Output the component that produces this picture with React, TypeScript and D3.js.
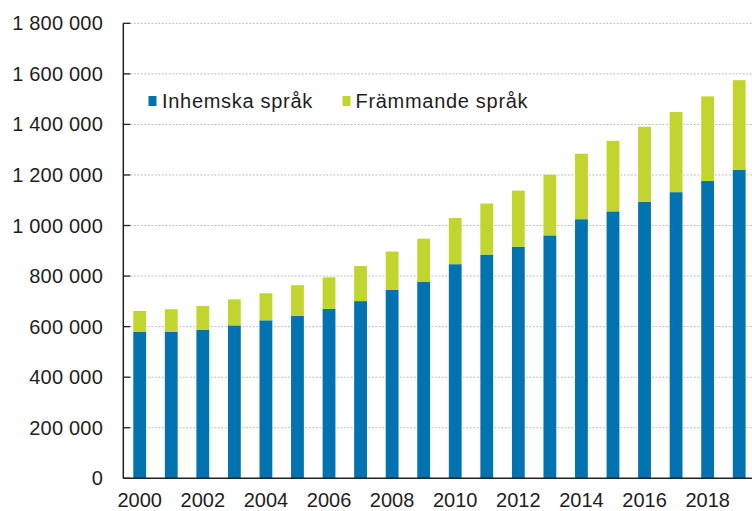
import React from "react";
import * as d3 from "d3";

const years = [2000,2001,2002,2003,2004,2005,2006,2007,2008,2009,2010,2011,2012,2013,2014,2015,2016,2017,2018,2019];
const domestic = [580000,580000,587000,605000,625000,643000,670000,701000,745000,778000,847000,885000,916000,961000,1025000,1056000,1094000,1132000,1176000,1221000];
const totals = [662000,669000,682000,708000,732000,764000,795000,840000,897000,948000,1030000,1087000,1138000,1201000,1284000,1335000,1391000,1449000,1511000,1575000];
const foreign = totals.map((t, i) => t - domestic[i]);
const yTicks = [0,200000,400000,600000,800000,1000000,1200000,1400000,1600000,1800000];
const seriesNames = ["Inhemska språk", "Främmande språk"];
const colors = ["#0073b0", "#c2d52f"];

const W = 752, H = 511;
const font = "'Liberation Sans', Arial, sans-serif";

export default function App() {
  const x = d3.scaleBand<number>().domain(years).range([123.3, 755.6]).paddingInner(0.594).paddingOuter(0.317);
  const y = d3.scaleLinear().domain([0, 1800000]).range([478.3, 23.3]);
  const stackData = years.map((yr, i) => ({ year: yr, a: domestic[i], b: foreign[i] }));
  const stack = d3.stack<any>().keys(["a", "b"])(stackData);
  const fmt = (v: number) => d3.format(",")(v).replace(/,/g, " ");
  const axisX = 123.3;
  return (
    <svg width={W} height={H} style={{ position: "absolute", left: 0, top: 0, background: "#fff" }}>
      {yTicks.map((t) => (
        <g key={t}>
          {t > 0 && (
            <line x1={axisX} x2={W} y1={y(t)} y2={y(t)} stroke="#bdbdbd" strokeWidth={1} strokeDasharray="2,1.5" />
          )}
          <line x1={axisX} x2={axisX + 7} y1={y(t)} y2={y(t)} stroke="#222" strokeWidth={1.3} />
          <text x={103} y={y(t)} dy="0.35em" textAnchor="end" fontFamily={font} fontSize={20} fill="#1e1e1e" letterSpacing={0.2}>
            {fmt(t)}
          </text>
        </g>
      ))}
      {stack.map((layer, li) => (
        <g key={li} fill={colors[li]}>
          {layer.map((d: any, i: number) => (
            <rect key={i} x={x(years[i])} width={x.bandwidth()} y={y(d[1])} height={y(d[0]) - y(d[1])} />
          ))}
        </g>
      ))}
      <line x1={axisX} x2={axisX} y1={y(1800000)} y2={y(0)} stroke="#222" strokeWidth={1.5} />
      <line x1={axisX} x2={W} y1={y(0)} y2={y(0)} stroke="#222" strokeWidth={1.5} />
      {years.filter((yr) => yr % 2 === 0).map((yr) => (
        <text key={yr} x={(x(yr) as number) + x.bandwidth() / 2} y={506.5} textAnchor="middle" fontFamily={font} fontSize={20} fill="#1e1e1e">
          {yr}
        </text>
      ))}
      <g>
        <rect x={148.5} y={96} width={8} height={10} fill={colors[0]} />
        <text x={162} y={108} fontFamily={font} fontSize={20} fill="#1e1e1e" letterSpacing={0.7}>{seriesNames[0]}</text>
        <rect x={342.5} y={96} width={8} height={10} fill={colors[1]} />
        <text x={355.5} y={108} fontFamily={font} fontSize={20} fill="#1e1e1e" letterSpacing={0.7}>{seriesNames[1]}</text>
      </g>
    </svg>
  );
}
